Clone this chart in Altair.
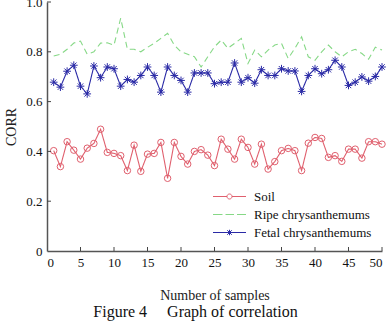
import altair as alt
import pandas as pd

# Correlation (CORR) of each sample group against the reference spectrum
samples = list(range(1, 51))
series_names = ["Soil", "Ripe chrysanthemums", "Fetal chrysanthemums"]

soil = [0.403, 0.339, 0.439, 0.405, 0.369, 0.413, 0.432, 0.489, 0.396, 0.392,
        0.383, 0.323, 0.425, 0.320, 0.389, 0.392, 0.436, 0.292, 0.436, 0.380,
        0.349, 0.400, 0.407, 0.385, 0.343, 0.449, 0.409, 0.369, 0.449, 0.416,
        0.349, 0.429, 0.329, 0.359, 0.403, 0.412, 0.403, 0.323, 0.433, 0.456,
        0.452, 0.376, 0.383, 0.360, 0.409, 0.409, 0.373, 0.439, 0.439, 0.429]

ripe = [0.783, 0.790, 0.810, 0.835, 0.843, 0.790, 0.800, 0.835, 0.836, 0.827,
        0.935, 0.810, 0.810, 0.800, 0.818, 0.834, 0.854, 0.874, 0.827, 0.800,
        0.790, 0.780, 0.739, 0.780, 0.820, 0.847, 0.814, 0.834, 0.854, 0.753,
        0.807, 0.780, 0.807, 0.827, 0.834, 0.773, 0.814, 0.860, 0.780, 0.766,
        0.800, 0.827, 0.800, 0.780, 0.800, 0.810, 0.793, 0.770, 0.818, 0.807]

fetal = [0.678, 0.658, 0.722, 0.746, 0.662, 0.631, 0.743, 0.696, 0.739, 0.732,
         0.662, 0.689, 0.678, 0.705, 0.739, 0.705, 0.638, 0.739, 0.705, 0.685,
         0.638, 0.715, 0.715, 0.715, 0.672, 0.678, 0.678, 0.755, 0.678, 0.696,
         0.674, 0.728, 0.705, 0.705, 0.732, 0.723, 0.723, 0.641, 0.705, 0.732,
         0.712, 0.728, 0.766, 0.739, 0.665, 0.678, 0.699, 0.682, 0.701, 0.739]

x_ticks = [0, 5, 10, 15, 20, 25, 30, 35, 40, 45, 50]
y_ticks = [0.0, 0.2, 0.4, 0.6, 0.8, 1.0]
caption = "Figure 4\u00a0\u00a0\u00a0\u00a0\u00a0Graph of correlation"

colors = ["#e0606e", "#86d886", "#2a2aa6"]
dashes = [[1, 0], [6, 4], [1, 0]]
# legend glyphs (scaled by 5 px per unit): line with open circle, dashed line, line with asterisk
legend_paths = [
    "M-3.3,0L-0.5,0M0.5,0L3.3,0M-0.5,0A0.5,0.5,0,1,1,0.5,0A0.5,0.5,0,1,1,-0.5,0",
    "M-3.3,0L-1.4,0M-0.8,0L0.9,0M1.5,0L3.3,0",
    "M-3.3,0L3.3,0M0,-0.55L0,0.55M-0.45,-0.45L0.45,0.45M-0.45,0.45L0.45,-0.45",
]
star_path = "M-1,0L1,0M0,-1L0,1M-0.7,-0.7L0.7,0.7M-0.7,0.7L0.7,-0.7"

FONT = "Liberation Serif"
W, H = 335, 249

df = pd.DataFrame({
    "x": samples * 3,
    "corr": soil + ripe + fetal,
    "series": [series_names[0]] * 50 + [series_names[1]] * 50 + [series_names[2]] * 50,
})
xt = pd.DataFrame({"t": x_ticks[1:]})
yt = pd.DataFrame({"t": y_ticks[1:]})

x_axis = alt.Axis(values=x_ticks, title="Number of samples", tickSize=0,
                  labelPadding=5, titlePadding=19, grid=False, labelOverlap=False)
y_axis = alt.Axis(values=y_ticks, title="CORR", tickSize=0,
                  labelPadding=5, titlePadding=7, grid=False, labelOverlap=False,
                  labelExpr="datum.value == 0 ? '0' : format(datum.value, '.1f')")
x_scale = alt.Scale(domain=[0, 50], nice=False)
y_scale = alt.Scale(domain=[0, 1], nice=False)


def xy():
    return dict(x=alt.X("x:Q", scale=x_scale, axis=x_axis),
                y=alt.Y("corr:Q", scale=y_scale, axis=y_axis))


def series_line(i):
    return alt.Chart(df).transform_filter(alt.datum.series == series_names[i]).mark_line(
        strokeWidth=1.1, color=colors[i], strokeDash=dashes[i]
    ).encode(**xy())


soil_pts = alt.Chart(df).transform_filter(alt.datum.series == series_names[0]).mark_point(
    shape="circle", filled=False, size=42, strokeWidth=1, color=colors[0], opacity=1
).encode(**xy())

fetal_pts = alt.Chart(df).transform_filter(alt.datum.series == series_names[2]).mark_point(
    shape=star_path, filled=False, size=60, strokeWidth=1, color=colors[2], opacity=1
).encode(**xy())

# invisible layer that only carries the legend
legend_spec = alt.Legend(title=None, orient="none", legendX=176, legendY=188)
legend_layer = alt.Chart(df).mark_point(filled=False, opacity=0).encode(
    **xy(),
    color=alt.Color("series:N", scale=alt.Scale(domain=series_names, range=colors),
                    legend=legend_spec),
    shape=alt.Shape("series:N", scale=alt.Scale(domain=series_names, range=legend_paths),
                    legend=legend_spec),
)

x_tick_marks = alt.Chart(xt).mark_rule(color="#444", strokeWidth=1).encode(
    x=alt.X("t:Q", scale=x_scale, axis=x_axis), y=alt.value(H), y2=alt.value(H - 4))
y_tick_marks = alt.Chart(yt).mark_rule(color="#444", strokeWidth=1).encode(
    y=alt.Y("t:Q", scale=y_scale, axis=y_axis), x=alt.value(0), x2=alt.value(4))

chart = alt.layer(
    series_line(0), series_line(1), series_line(2), soil_pts, fetal_pts,
    legend_layer, x_tick_marks, y_tick_marks
).properties(
    width=W, height=H,
    background="white",
    autosize=alt.AutoSizeParams(type="none"),
    padding={"left": 47, "top": 2, "right": 7, "bottom": 71},
    title=alt.TitleParams(caption, orient="bottom", anchor="middle", dx=-19, offset=2,
                          font=FONT, fontSize=16, fontWeight="normal", color="#111"),
).configure_view(stroke=None).configure_axis(
    labelFont=FONT, labelFontSize=13, labelColor="#111", labelOverlap=False,
    titleFont=FONT, titleFontSize=14, titleFontWeight="normal", titleColor="#222",
    domainColor="#555", domainWidth=1.5,
).configure_legend(
    labelFont=FONT, labelFontSize=13, labelColor="#111",
    symbolSize=100, symbolStrokeWidth=1, symbolFillColor="transparent", symbolOpacity=1,
    rowPadding=4, labelOffset=18, padding=0,
)

chart.save("out.html", embed_options={"renderer": "svg", "actions": False})
